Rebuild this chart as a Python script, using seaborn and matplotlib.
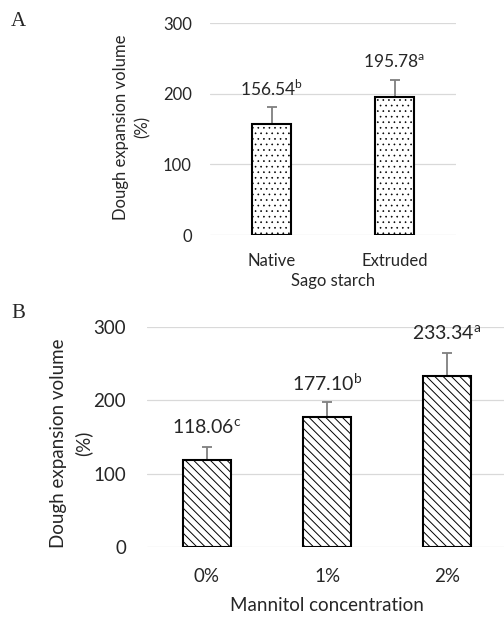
import matplotlib
matplotlib.use("Agg")
import matplotlib.pyplot as plt
import seaborn as sns
import numpy as np

# Panel A: sago starch type
starch_types = ["Native", "Extruded"]
starch_volume = [156.54, 195.78]
starch_sd = [25.0, 23.0]
starch_letters = ["b", "a"]

# Panel B: mannitol concentration
mannitol_levels = ["0%", "1%", "2%"]
mannitol_volume = [118.06, 177.10, 233.34]
mannitol_sd = [18.0, 20.5, 31.0]
mannitol_letters = ["c", "b", "a"]

y_ticks = [0, 100, 200, 300]

sns.set_theme(style="whitegrid")
plt.rcParams["font.family"] = ["Lato", "DejaVu Sans"]
plt.rcParams["mathtext.fontset"] = "custom"
plt.rcParams["mathtext.rm"] = "Lato"
plt.rcParams["hatch.color"] = "black"

W, H, DPI = 504, 617, 100
fig = plt.figure(figsize=(W / DPI, H / DPI), dpi=DPI)
fig.patch.set_facecolor("white")


def px_axes(left, top, right, bottom):
    return fig.add_axes([left / W, 1 - bottom / H, (right - left) / W, (bottom - top) / H])


def panel(ax, cats, vals, errs, letters, hatch, hatch_lw, width, fs_tick, fs_lab, fs_val,
          tick_pad, xlab, ylab_xy, xlab_y, lab_off):
    plt.rcParams["hatch.linewidth"] = hatch_lw
    sns.barplot(x=cats, y=vals, ax=ax, color="white", edgecolor="black",
                linewidth=1.5, width=width, errorbar=None, saturation=1)
    for p in ax.patches:
        p.set_hatch(hatch)
        p.set_facecolor("white")
        p.set_edgecolor("black")
        p.set_zorder(3)
    xs = np.arange(len(cats))
    ax.errorbar(xs, vals, yerr=[np.zeros(len(vals)), errs], fmt="none",
                ecolor="#7f7f7f", elinewidth=1.3, capsize=3.5, capthick=1.3, zorder=2)
    for x, v, e, l in zip(xs, vals, errs, letters):
        ax.annotate(f"{v:.2f}$^{{\\mathregular{{{l}}}}}$", (x, v + e),
                    xytext=(0, lab_off), textcoords="offset points",
                    ha="center", va="center", fontsize=fs_val, color="#262626")
    ax.set_xlim(-0.5, len(cats) - 0.5)
    ax.set_ylim(0, 300)
    ax.set_yticks(y_ticks)
    ax.set_axisbelow(True)
    ax.grid(axis="y", color="#d9d9d9", linewidth=0.9)
    ax.grid(axis="x", visible=False)
    for s in ax.spines.values():
        s.set_visible(False)
    ax.set_facecolor("white")
    ax.tick_params(axis="both", length=0, pad=tick_pad, labelsize=fs_tick, labelcolor="#262626")
    ax.set_xlabel(xlab, fontsize=fs_lab, color="#262626")
    ax.xaxis.set_label_coords(0.5, xlab_y)
    ax.xaxis.label.set_va("center")
    ax.set_ylabel("Dough expansion volume\n(%)", fontsize=fs_lab, color="#262626",
                  linespacing=1.45)
    ax.yaxis.set_label_coords(*ylab_xy)
    ax.yaxis.label.set_va("center")
    ax.yaxis.label.set_ha("center")


axA = px_axes(210, 23, 456, 235)
panel(axA, starch_types, starch_volume, starch_sd, starch_letters, "...", 0.45, 0.32,
      12, 12, 12.5, 13, "Sago starch", (-0.317, 0.51), -0.217, 13)

axB = px_axes(147, 327, 507, 547)
panel(axB, mannitol_levels, mannitol_volume, mannitol_sd, mannitol_letters, "\\\\\\\\", 0.7, 0.4,
      13.5, 13.5, 14, 15, "Mannitol concentration", (-0.211, 0.47), -0.264, 14)

fig.text(18 / W, 1 - 21 / H, "A", fontsize=15, family="Liberation Serif", ha="center", va="center")
fig.text(18 / W, 1 - 313 / H, "B", fontsize=15, family="Liberation Serif", ha="center", va="center")

fig.savefig("out.png", dpi=DPI, facecolor="white")
